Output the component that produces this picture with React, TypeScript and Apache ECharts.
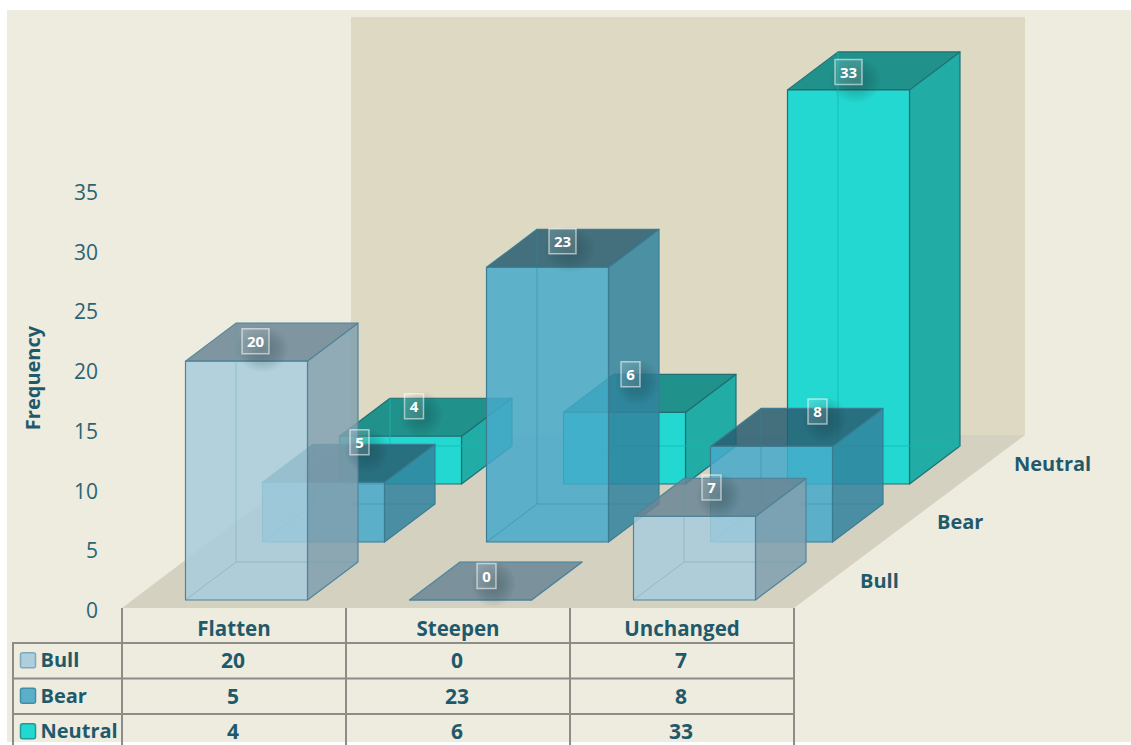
import React, { useEffect, useRef } from "react";
import * as echarts from "echarts";

const categories = ["Flatten", "Steepen", "Unchanged"];
const seriesNames = ["Bull", "Bear", "Neutral"];
const bull = [20, 0, 7];
const bear = [5, 23, 8];
const neutral = [4, 6, 33];
const yTicks = { min: 0, max: 35, interval: 5 };
const axisTitle = "Frequency";

const seriesValues = [bull, bear, neutral];

// Look of each row of the 3D chart
const rowStyle = [
  { dx: 12.5, dy: -10, front: "rgba(167,205,220,.85)", side: "rgba(128,160,175,.85)", top: "rgba(107,134,148,.85)", edge: "#4F8499", inner: "rgba(90,150,180,.35)", key: "#AECEDB", keyEdge: "#7FA8B8" },
  { dx: 89.5, dy: -68, front: "rgba(71,169,201,.85)", side: "rgba(49,130,158,.85)", top: "rgba(41,93,113,.85)", edge: "#3A7D92", inner: "rgba(40,130,165,.45)", key: "#5CAFC8", keyEdge: "#3F8EA6" },
  { dx: 166.5, dy: -126, front: "rgba(34,216,208,1)", side: "rgba(33,172,165,1)", top: "rgba(33,145,139,1)", edge: "#1F6F74", inner: "rgba(20,185,178,.8)", key: "#22D8D0", keyEdge: "#1F9A98" },
];
const barWidth = 122;
const depthX = 50.5;
const depthY = -38;

// Offset of each value tag from the middle of the bar's top front edge [row][category]
const tagOffsets = [
  [[9, -20], [16, -24], [17, -29]],
  [[36, -40], [15, -26], [46, -35]],
  [[13.5, -30], [6, -38], [0, -18]],
];

const INK = "#1F5A6B";
const FONT = "'Open Sans', sans-serif";
const GRID = "#8C8C88";
const COL_X = [122, 346, 570, 794];
const ROW_Y = [643, 678.5, 714];

function barRenderer(row: number) {
  const s = rowStyle[row];
  return (_params: any, api: any) => {
    const c = api.value(0);
    const v = api.value(1);
    const [cx, yBase] = api.coord([c, 0]);
    const [, yVal] = api.coord([c, v]);
    const l = cx + s.dx - barWidth / 2;
    const r = l + barWidth;
    const b = yBase + s.dy;
    const t = yVal + s.dy;
    const face = (pts: number[][], fill: string) => ({
      type: "polygon",
      shape: { points: pts },
      style: { fill, stroke: s.edge, lineWidth: 1.2, lineJoin: "round" },
    });
    const line = (x1: number, y1: number, x2: number, y2: number) => ({
      type: "line",
      shape: { x1, y1, x2, y2 },
      style: { stroke: s.inner, lineWidth: 1 },
    });
    const bx = l + depthX;
    const by = b + depthY;
    return {
      type: "group",
      children: [
        face([[r, t], [r + depthX, t + depthY], [r + depthX, by], [r, b]], s.side),
        face([[l, t], [bx, t + depthY], [r + depthX, t + depthY], [r, t]], s.top),
        face([[l, t], [r, t], [r, b], [l, b]], s.front),
        line(bx, t + depthY, bx, by),
        line(bx, by, r + depthX, by),
        line(l, b, bx, by),
      ],
    };
  };
}

function tagRenderer(_params: any, api: any) {
  const c = api.value(0);
  const v = api.value(1);
  const row = api.value(2);
  const s = rowStyle[row];
  const [cx, yBase] = api.coord([c, 0]);
  const [, yVal] = api.coord([c, v]);
  const [ox, oy] = tagOffsets[row][c];
  const x = cx + s.dx + ox;
  const y = yVal + s.dy + oy;
  const str = String(v);
  const w = str.length > 1 ? 27 : 19;
  const h = 25;
  return {
    type: "group",
    children: [
      {
        type: "rect",
        shape: { x: x - w / 2 - 6, y: y - h / 2 - 3, width: w + 26, height: h + 22 },
        style: {
          fill: new echarts.graphic.RadialGradient(0.5, 0.5, 0.5, [
            { offset: 0, color: "rgba(15,50,55,.34)" },
            { offset: 0.6, color: "rgba(15,50,55,.16)" },
            { offset: 1, color: "rgba(15,50,55,0)" },
          ]),
        },
      },
      {
        type: "rect",
        shape: { x: x - w / 2, y: y - h / 2, width: w, height: h },
        style: { fill: "rgba(255,255,255,.14)", stroke: "rgba(255,255,255,.55)", lineWidth: 1.5 },
      },
      {
        type: "text",
        style: { x, y, text: str, fill: "#FFFFFF", font: `bold 15px ${FONT}`, align: "center", verticalAlign: "middle" },
      },
    ],
  };
}

function buildOption() {
  const graphics: any[] = [
    { type: "rect", z: -30, silent: true, shape: { x: 7, y: 10, width: 1124, height: 732 }, style: { fill: "#EEEBDF" } },
    { type: "rect", z: -29, silent: true, shape: { x: 351, y: 17, width: 674, height: 418 }, style: { fill: "#DED9C3" } },
    { type: "polygon", z: -28, silent: true, shape: { points: [[122, 608], [794, 608], [1025, 435], [351, 435]] }, style: { fill: "#D5D1C0" } },
    {
      type: "text",
      x: 32, y: 378, rotation: Math.PI / 2,
      style: { text: axisTitle, fill: INK, font: `bold 20px ${FONT}`, align: "center", verticalAlign: "middle" },
    },
  ];

  // Depth-axis row names
  const depthPos = [[860, 580.5], [937, 521.5], [1014, 463.5]];
  seriesNames.forEach((name, i) => {
    graphics.push({
      type: "text",
      style: { x: depthPos[i][0], y: depthPos[i][1], text: name, fill: INK, font: `bold 20px ${FONT}`, align: "left", verticalAlign: "middle" },
    });
  });

  // Data table
  const hline = (x1: number, y: number, x2: number) => ({ type: "line", shape: { x1, y1: y, x2, y2: y }, style: { stroke: GRID, lineWidth: 2 } });
  const vline = (x: number, y1: number, y2: number) => ({ type: "line", shape: { x1: x, y1, x2: x, y2 }, style: { stroke: GRID, lineWidth: 2 } });
  ROW_Y.forEach((y) => graphics.push(hline(13, y, 795)));
  COL_X.forEach((x) => graphics.push(vline(x, 608, 745)));
  graphics.push(vline(13, 642, 745));

  seriesNames.forEach((name, r) => {
    const cy = (ROW_Y[r] + (ROW_Y[r + 1] ?? 749.5)) / 2;
    graphics.push({
      type: "rect",
      shape: { x: 20.5, y: cy - 8, width: 15, height: 15, r: 2 },
      style: { fill: rowStyle[r].key, stroke: rowStyle[r].keyEdge, lineWidth: 1.5 },
    });
    graphics.push({
      type: "text",
      style: { x: 40.5, y: cy - 1, text: name, fill: INK, font: `bold 20px ${FONT}`, align: "left", verticalAlign: "middle" },
    });
    seriesValues[r].forEach((v, c) => {
      graphics.push({
        type: "text",
        style: { x: (COL_X[c] + COL_X[c + 1]) / 2 - 1, y: cy - 0.5, text: String(v), fill: INK, font: `bold 21px ${FONT}`, align: "center", verticalAlign: "middle" },
      });
    });
  });

  const tagData: number[][] = [];
  seriesValues.forEach((vals, r) => vals.forEach((v, c) => tagData.push([c, v, r])));

  return {
    animation: false,
    backgroundColor: "#FFFFFF",
    grid: { left: 122, width: 672, top: 192, height: 418 },
    xAxis: {
      type: "category",
      data: categories,
      axisLine: { show: false },
      axisTick: { show: false },
      splitLine: { show: false },
      axisLabel: { color: INK, fontFamily: FONT, fontWeight: "bold", fontSize: 20.5, margin: 7.5 },
    },
    yAxis: {
      type: "value",
      min: yTicks.min,
      max: yTicks.max,
      interval: yTicks.interval,
      axisLine: { show: false },
      axisTick: { show: false },
      splitLine: { show: false },
      axisLabel: { color: "#2A6475", fontFamily: FONT, fontSize: 21, margin: 24 },
    },
    graphic: { elements: graphics },
    series: [
      ...[2, 1, 0].map((row, i) => ({
        type: "custom",
        name: seriesNames[row],
        z: 3 + i,
        silent: true,
        renderItem: barRenderer(row),
        encode: { x: 0, y: 1 },
        data: seriesValues[row].map((v, c) => [c, v]),
      })),
      {
        type: "custom",
        name: "Tags",
        z: 10,
        silent: true,
        renderItem: tagRenderer,
        encode: { x: 0, y: 1 },
        data: tagData,
      },
    ],
  };
}

export default function App() {
  const ref = useRef<HTMLDivElement>(null);
  useEffect(() => {
    const chart = echarts.init(ref.current!, undefined, { renderer: "svg" });
    chart.setOption(buildOption() as any);
    return () => chart.dispose();
  }, []);
  return <div ref={ref} style={{ position: "fixed", left: 0, top: 0, width: 1131, height: 745 }} />;
}
